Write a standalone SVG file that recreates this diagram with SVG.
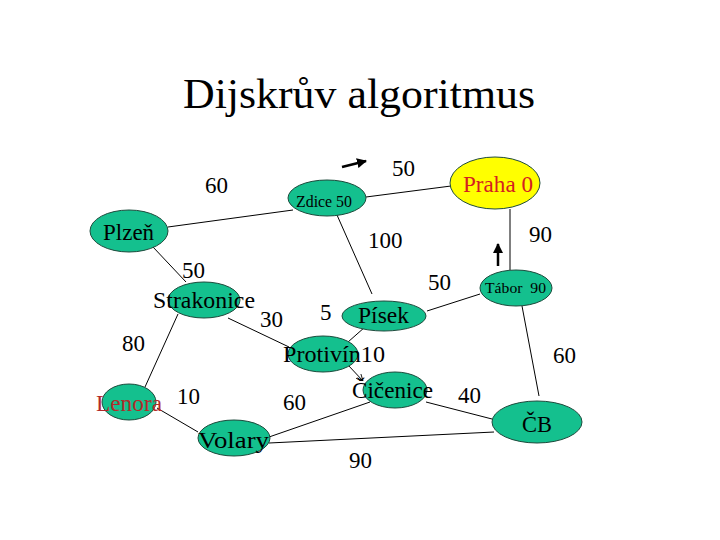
<svg xmlns="http://www.w3.org/2000/svg" width="720" height="540" viewBox="0 0 720 540">
<defs>
<style>
.n{fill:#14C08E;stroke:#1E4A3C;stroke-width:1}
.e{stroke:#000;stroke-width:1;fill:none}
</style>
<marker id="ah" viewBox="0 0 10 10" refX="9" refY="5" markerWidth="4" markerHeight="4" orient="auto" markerUnits="strokeWidth">
<path d="M0,0 L10,5 L0,10 Z" fill="#000"/>
</marker>
<marker id="ov" viewBox="0 0 10 10" refX="10" refY="5" markerWidth="7" markerHeight="7" orient="auto" markerUnits="userSpaceOnUse">
<path d="M0,0 L10,5 L0,10" fill="none" stroke="#000" stroke-width="1.2"/>
</marker>
</defs>
<rect width="720" height="540" fill="#fff"/>
<g font-family="Liberation Serif, Times New Roman, DejaVu Serif, serif">
<text x="359" y="108" text-anchor="middle" font-size="42" textLength="352" lengthAdjust="spacingAndGlyphs">Dijskrův algoritmus</text>
<g id="connectors">
<line class="e" x1="168" y1="227" x2="293" y2="210"/>
<line class="e" x1="366" y1="197" x2="451" y2="186"/>
<line class="e" x1="337" y1="215" x2="372" y2="294"/>
<line class="e" x1="510" y1="209" x2="510" y2="270"/>
<line class="e" x1="427" y1="311" x2="480" y2="294"/>
<line class="e" x1="522" y1="306" x2="539" y2="396"/>
<line class="e" x1="153" y1="247" x2="186" y2="282"/>
<line class="e" x1="228" y1="318" x2="289" y2="347"/>
<line class="e" x1="178" y1="314" x2="145" y2="387"/>
<line class="e" x1="365" y1="327" x2="348" y2="342"/>
<line class="e" x1="348" y1="365" x2="363" y2="381" marker-end="url(#ov)"/>
<line class="e" x1="157" y1="408" x2="198" y2="432"/>
<line class="e" x1="269" y1="437" x2="370" y2="402"/>
<line class="e" x1="269" y1="443" x2="494" y2="432"/>
<line class="e" x1="426" y1="402" x2="492" y2="419"/>
<line x1="342" y1="167" x2="366" y2="161" stroke="#000" stroke-width="2.5" marker-end="url(#ah)"/>
<line x1="498" y1="266" x2="498" y2="244" stroke="#000" stroke-width="2.5" marker-end="url(#ah)"/>
</g>
<g id="labels" font-size="23" fill="#000">
<text x="205" y="193">60</text>
<text x="392" y="176">50</text>
<text x="368" y="248">100</text>
<text x="529" y="242">90</text>
<text x="428" y="290">50</text>
<text x="182" y="278">50</text>
<text x="260" y="327">30</text>
<text x="320" y="320">5</text>
<text x="122" y="351">80</text>
<text x="177" y="404">10</text>
<text x="283" y="410">60</text>
<text x="349" y="468">90</text>
<text x="458" y="403">40</text>
<text x="553" y="363">60</text>
</g>
<g font-size="23">
<g id="plzen"><ellipse class="n" cx="129" cy="231" rx="39" ry="21"/><text x="103" y="240">Plzeň</text></g>
<g id="zdice"><ellipse class="n" cx="327" cy="198" rx="39" ry="18"/><text x="296" y="207" font-size="16" textLength="56" lengthAdjust="spacingAndGlyphs">Zdice 50</text></g>
<g id="praha"><ellipse cx="495" cy="183" rx="45" ry="26" fill="#FFFF00" stroke="#1E4A3C" stroke-width="1"/><text x="463" y="192" fill="#D42020" textLength="70" lengthAdjust="spacingAndGlyphs">Praha 0</text></g>
<g id="tabor"><ellipse class="n" cx="516" cy="288" rx="36" ry="18"/><text x="485" y="293" font-size="15" textLength="61" lengthAdjust="spacingAndGlyphs">Tábor&#160; 90</text></g>
<g id="strakonice"><ellipse class="n" cx="204" cy="300" rx="36" ry="18"/><text x="153" y="308" textLength="102" lengthAdjust="spacingAndGlyphs">Strakonice</text></g>
<g id="pisek"><ellipse class="n" cx="384" cy="316" rx="42" ry="15"/><text x="358" y="323" textLength="51" lengthAdjust="spacingAndGlyphs">Písek</text></g>
<g id="protivin"><ellipse class="n" cx="323" cy="354" rx="35" ry="18"/><text x="283" y="362" textLength="102" lengthAdjust="spacingAndGlyphs">Protivín10</text></g>
<g id="cicenice"><ellipse class="n" cx="395" cy="390" rx="32" ry="18"/><text x="352" y="398" textLength="81" lengthAdjust="spacingAndGlyphs">Čičenice</text></g>
<g id="cb"><ellipse class="n" cx="537" cy="422" rx="45" ry="21"/><text x="522" y="432" textLength="30" lengthAdjust="spacingAndGlyphs">ČB</text></g>
<g id="lenora"><ellipse class="n" cx="129" cy="402" rx="27" ry="18"/><text x="96" y="411" fill="#B32A2A" textLength="66" lengthAdjust="spacingAndGlyphs">Lenora</text></g>
<g id="volary"><ellipse class="n" cx="234" cy="438" rx="36" ry="18"/><text x="198" y="448" textLength="71" lengthAdjust="spacingAndGlyphs">Volary</text></g>
</g>
</g>
</svg>
